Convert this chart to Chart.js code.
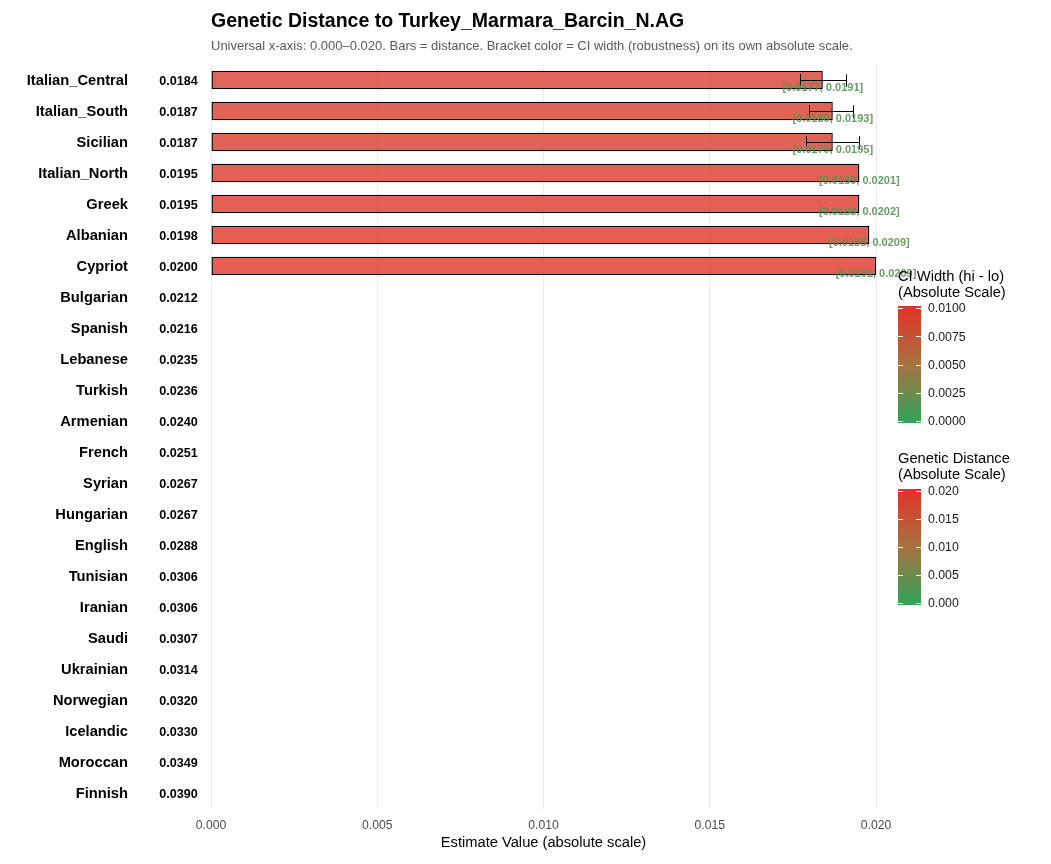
<!DOCTYPE html>
<html><head><meta charset="utf-8">
<script src="https://cdn.jsdelivr.net/npm/chart.js@4.4.1/dist/chart.umd.min.js"></script>
<style>html,body{margin:0;padding:0;background:#fff}#wrap{width:1051px;height:864px;position:relative}</style>
</head><body><div id="wrap"><canvas id="c" width="1051" height="864"></canvas></div>
<script>
const categories = ["Italian_Central","Italian_South","Sicilian","Italian_North","Greek","Albanian","Cypriot","Bulgarian","Spanish","Lebanese","Turkish","Armenian","French","Syrian","Hungarian","English","Tunisian","Iranian","Saudi","Ukrainian","Norwegian","Icelandic","Moroccan","Finnish"];
const estimates = [0.0184,0.0187,0.0187,0.0195,0.0195,0.0198,0.0200,0.0212,0.0216,0.0235,0.0236,0.0240,0.0251,0.0267,0.0267,0.0288,0.0306,0.0306,0.0307,0.0314,0.0320,0.0330,0.0349,0.0390];
const ciLow  = [0.0177,0.0180,0.0179,0.0189,0.0188,0.0188,0.0191,null,null,null,null,null,null,null,null,null,null,null,null,null,null,null,null,null];
const ciHigh = [0.0191,0.0193,0.0195,0.0201,0.0202,0.0209,0.0209,null,null,null,null,null,null,null,null,null,null,null,null,null,null,null,null,null];
const xTicks = [0, 0.005, 0.010, 0.015, 0.020];
const ciLegendTicks = [0, 0.0025, 0.0050, 0.0075, 0.0100];
const distLegendTicks = [0, 0.005, 0.010, 0.015, 0.020];
const titleText = "Genetic Distance to Turkey_Marmara_Barcin_N.AG";
const subtitleText = "Universal x-axis: 0.000\u20130.020. Bars = distance. Bracket color = CI width (robustness) on its own absolute scale.";
const xTitleText = "Estimate Value (absolute scale)";
const ciLegendTitle = ["CI Width (hi - lo)", "(Absolute Scale)"];
const distLegendTitle = ["Genetic Distance", "(Absolute Scale)"];

const X_MIN = 0, X_MAX = 0.020, CI_MAX = 0.010;
const FONT = "'Liberation Sans', Arial, sans-serif";

// color ramp green -> brown -> red
const stops = [[52,162,90],[165,115,64],[224,52,40]];
function ramp(t){
  t = Math.max(0, Math.min(1, t));
  let a, b, u;
  if (t <= 0.5){ a = stops[0]; b = stops[1]; u = t/0.5; } else { a = stops[1]; b = stops[2]; u = (t-0.5)/0.5; }
  return [0,1,2].map(k => Math.round(a[k] + (b[k]-a[k])*u));
}
function rgba(c, al){ return `rgba(${c[0]},${c[1]},${c[2]},${al})`; }

const barData = estimates.map(v => (v >= X_MIN && v <= X_MAX) ? v : null);
const barColors = estimates.map(v => rgba(ramp(v / X_MAX), 0.8));

const overlay = {
  id: 'overlay',
  afterDatasetsDraw(chart){
    const ctx = chart.ctx, xs = chart.scales.x, ys = chart.scales.y;
    const band = ys.getPixelForValue(1) - ys.getPixelForValue(0);
    ctx.save();
    // error bars
    ctx.strokeStyle = '#000'; ctx.lineWidth = 1;
    for (let i = 0; i < categories.length; i++){
      const lo = ciLow[i], hi = ciHigh[i];
      if (lo == null || hi == null || lo < X_MIN || hi > X_MAX) continue;
      const y = Math.round(ys.getPixelForValue(i)) + 0.5;
      const x1 = Math.round(xs.getPixelForValue(lo)) + 0.5, x2 = Math.round(xs.getPixelForValue(hi)) + 0.5;
      const h = band * 0.2;
      ctx.beginPath();
      ctx.moveTo(x1, y); ctx.lineTo(x2, y);
      ctx.moveTo(x1, y - h); ctx.lineTo(x1, y + h);
      ctx.moveTo(x2, y - h); ctx.lineTo(x2, y + h);
      ctx.stroke();
    }
    // CI labels
    ctx.font = `bold 11px ${FONT}`; ctx.textAlign = 'center'; ctx.textBaseline = 'middle';
    for (let i = 0; i < categories.length; i++){
      const lo = ciLow[i], hi = ciHigh[i];
      if (lo == null || hi == null || barData[i] == null) continue;
      ctx.fillStyle = rgba(ramp((hi - lo) / CI_MAX), 0.9);
      ctx.fillText(`[${lo.toFixed(4)}, ${hi.toFixed(4)}]`, xs.getPixelForValue(estimates[i]), ys.getPixelForValue(i) + 8);
    }
    // value labels
    ctx.font = `bold 12.6px ${FONT}`; ctx.fillStyle = '#000';
    for (let i = 0; i < categories.length; i++){
      ctx.fillText(estimates[i].toFixed(4), chart.chartArea.left - 32.5, ys.getPixelForValue(i) + 2);
    }
    ctx.restore();
  },
  afterDraw(chart){
    const ctx = chart.ctx;
    ctx.save();
    ctx.textAlign = 'left'; ctx.textBaseline = 'middle';
    ctx.fillStyle = '#000'; ctx.font = `bold 19.5px ${FONT}`;
    ctx.fillText(titleText, 211, 22);
    ctx.fillStyle = '#595959'; ctx.font = `13px ${FONT}`;
    ctx.fillText(subtitleText, 211, 46);
    function legend(titleLines, ticks, maxV, titleY, barTop, barBot, dec){
      ctx.fillStyle = '#000'; ctx.font = `14.7px ${FONT}`; ctx.textAlign = 'left';
      titleLines.forEach((t, k) => ctx.fillText(t, 898, titleY + k * 16));
      const x0 = 898, w = 23;
      const g = ctx.createLinearGradient(0, barBot, 0, barTop);
      for (let s = 0; s <= 20; s++) g.addColorStop(s/20, rgba(ramp(s/20), 1));
      ctx.fillStyle = g; ctx.fillRect(x0, barTop - 2, w, barBot - barTop + 4);
      ctx.font = `12.3px ${FONT}`;
      ticks.forEach(v => {
        const y = barBot - (v / maxV) * (barBot - barTop);
        ctx.strokeStyle = '#fff'; ctx.lineWidth = 1;
        const yy = Math.round(y) + 0.5;
        ctx.beginPath(); ctx.moveTo(x0, yy); ctx.lineTo(x0 + 5, yy); ctx.moveTo(x0 + w - 5, yy); ctx.lineTo(x0 + w, yy); ctx.stroke();
        ctx.fillStyle = '#1a1a1a';
        ctx.fillText(v.toFixed(dec), 928, y + 1);
      });
    }
    legend(ciLegendTitle, ciLegendTicks, CI_MAX, 277, 308, 421, 4);
    legend(distLegendTitle, distLegendTicks, X_MAX, 459, 491, 603, 3);
    ctx.restore();
  }
};

new Chart(document.getElementById('c'), {
  type: 'bar',
  data: {
    labels: categories,
    datasets: [{
      data: barData,
      backgroundColor: barColors,
      borderColor: '#000',
      borderWidth: 1.4,
      borderSkipped: false,
      barPercentage: 0.6,
      categoryPercentage: 1.0
    }]
  },
  options: {
    indexAxis: 'y',
    responsive: false,
    devicePixelRatio: 1,
    animation: false,
    layout: { padding: { top: 64.5, right: 175, bottom: 0, left: 0 } },
    plugins: { legend: { display: false }, tooltip: { enabled: false } },
    scales: {
      x: {
        type: 'linear', min: X_MIN, max: X_MAX,
        afterBuildTicks: s => { s.ticks = xTicks.map(v => ({ value: v })); },
        afterFit: s => { s.height = 55.5; },
        ticks: { callback: v => Number(v).toFixed(3), font: { family: FONT, size: 12.2 }, color: '#4d4d4d', padding: 10, maxRotation: 0 },
        grid: { color: '#ebebeb', lineWidth: 1, drawTicks: false },
        border: { display: false },
        title: { display: true, text: xTitleText, font: { family: FONT, size: 14.7 }, color: '#000', padding: { top: 0, bottom: 12 } }
      },
      y: {
        type: 'category',
        afterFit: s => { s.width = 211; },
        ticks: { font: { family: FONT, size: 14.7, weight: 'bold' }, color: '#000', padding: 3, labelOffset: 1 },
        grid: { display: false, drawTicks: true, tickLength: 80 },
        border: { display: false }
      }
    }
  },
  plugins: [overlay]
});
</script>
</body></html>
